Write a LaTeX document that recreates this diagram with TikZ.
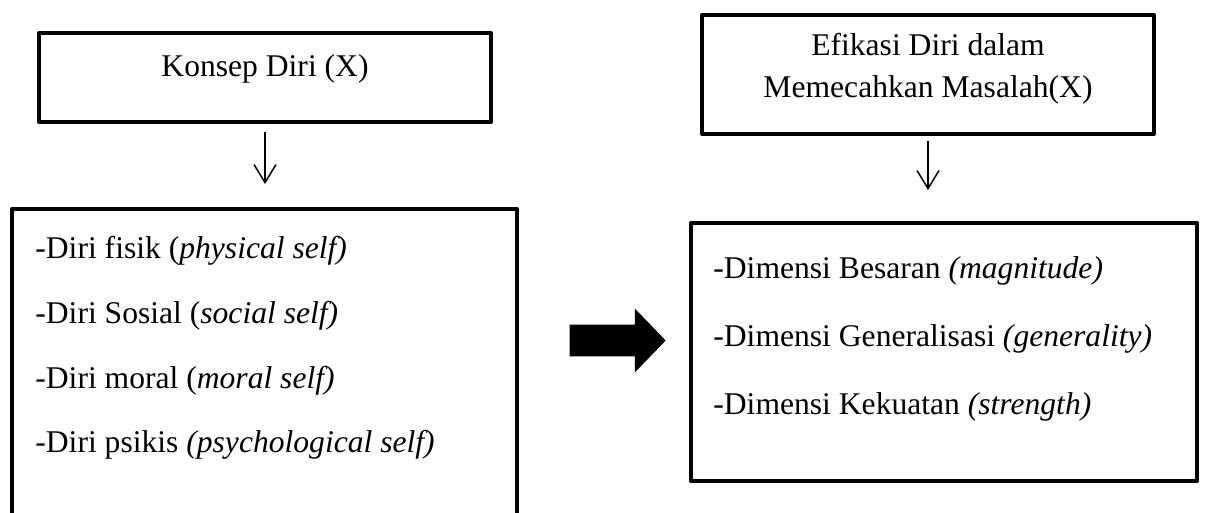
\documentclass[tikz,border=0pt]{standalone}
\usepackage{fontspec}
\setmainfont{Liberation Serif}
\usetikzlibrary{arrows.meta,shapes.arrows}
\begin{document}
\begin{tikzpicture}[x=0.5pt,y=-0.5pt,
  boxs/.style={draw=black, line width=2pt, line join=round, inner sep=0pt},
  lbl/.style={font=\fontsize{15.8}{19}\selectfont, inner sep=0pt},
  item/.style={lbl, anchor=base west},
  thinarrow/.style={line width=0.75pt, -{Straight Barb[length=9pt,width=11pt,line width=0.75pt]}},
  bigarrow/.style={single arrow, fill=black, draw=none, inner xsep=0pt, inner ysep=7.75pt,
    minimum height=48pt, single arrow head extend=8pt, single arrow tip angle=92,
    single arrow head indent=0pt}
]
\useasboundingbox (0,0) rectangle (1205,513);
\clip (0,0) rectangle (1205,513);
% boxes
\node[boxs, minimum width=226pt, minimum height=44.5pt] (b1) at (265,77.5) {};
\node[boxs, minimum width=252.5pt, minimum height=175.5pt] (b2) at (264.5,384.5) {};
\node[boxs, minimum width=226pt, minimum height=59.5pt] (b3) at (928,74.5) {};
\node[boxs, minimum width=253pt, minimum height=129pt] (b4) at (944,352) {};
% texts
\node[lbl, anchor=base] (t1) at (265,77) {Konsep Diri (X)};
\node[lbl, anchor=base] (t3a) at (928,56) {Efikasi Diri dalam};
\node[lbl, anchor=base] (t3b) at (928,98) {Memecahkan Masalah(X)};
\node[item] (p1) at (35,259) {-Diri fisik (\textit{physical self)}};
\node[item] (p2) at (35,323) {-Diri Sosial (\textit{social self)}};
\node[item] (p3) at (35,388) {-Diri moral (\textit{moral self)}};
\node[item] (p4) at (35,452) {-Diri psikis \textit{(psychological self)}};
\node[item] (q1) at (713,279) {-Dimensi Besaran \textit{(magnitude)}};
\node[item] (q2) at (713,347) {-Dimensi Generalisasi \textit{(generality)}};
\node[item] (q3) at (713,415) {-Dimensi Kekuatan \textit{(strength)}};
% arrows
\draw[thinarrow, shorten <=4pt, shorten >=11.5pt] (b1.south) -- (b1.south |- b2.north);
\draw[thinarrow, shorten <=2.5pt, shorten >=15.5pt] (b3.south) -- (b3.south |- b4.north);
\node[bigarrow] (big) at (610,340.5) {};
\end{tikzpicture}
\end{document}
